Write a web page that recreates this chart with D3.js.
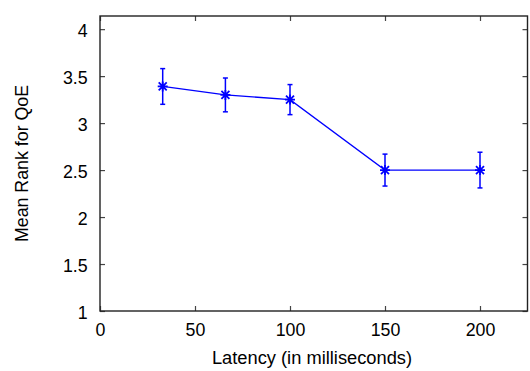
<!DOCTYPE html>
<html><head><meta charset="utf-8">
<script src="https://cdn.jsdelivr.net/npm/d3@7"></script>
<style>body{margin:0;background:#fff}svg{display:block}text{font-family:"Liberation Sans",Arial,sans-serif}</style>
</head><body>
<script>
const latency = [33, 66, 100, 150, 200];
const meanRank = [3.39, 3.30, 3.25, 2.50, 2.50];
const errLow = [3.20, 3.12, 3.09, 2.33, 2.31];
const errHigh = [3.58, 3.48, 3.41, 2.67, 2.69];
const xTicks = [0, 50, 100, 150, 200];
const yTicks = [1, 1.5, 2, 2.5, 3, 3.5, 4];

const W = 530, H = 371;
const m = {l: 100, r: 2.5, t: 16, b: 60};
const svg = d3.select("body").append("svg").attr("width", W).attr("height", H);
const x = d3.scaleLinear().domain([0, 225]).range([m.l, W - m.r]);
const y = d3.scaleLinear().domain([1, 4.14]).range([H - m.b, m.t]);
const blue = "#0000ff";
const fs = 17.8;

const g = svg.append("g");
const tl = 5;
g.append("g").attr("transform", `translate(0,${H - m.b})`)
  .call(d3.axisBottom(x).tickValues(xTicks).tickSizeInner(-tl).tickSizeOuter(0).tickPadding(12).tickFormat(d3.format("d")));
g.append("g").attr("transform", `translate(0,${m.t})`)
  .call(d3.axisTop(x).tickValues(xTicks).tickSizeInner(-tl).tickSizeOuter(0).tickFormat(""));
g.append("g").attr("transform", `translate(${m.l},0)`)
  .call(d3.axisLeft(y).tickValues(yTicks).tickSizeInner(-tl).tickSizeOuter(0).tickPadding(12.3).tickFormat(d => d3.format("")(d)));
g.append("g").attr("transform", `translate(${W - m.r},0)`)
  .call(d3.axisRight(y).tickValues(yTicks).tickSizeInner(-tl).tickSizeOuter(0).tickFormat(""));
g.selectAll(".domain").remove();
g.selectAll(".tick line").attr("stroke", "#444").attr("stroke-width", 1.2);
g.selectAll(".tick text").attr("font-size", fs).attr("fill", "#000");
g.selectAll(".tick text").filter(function(){ return d3.select(this).attr("dy") === "0.32em"; }).attr("dy", "0.42em");

svg.append("rect").attr("x", m.l).attr("y", m.t)
  .attr("width", W - m.r - m.l).attr("height", H - m.b - m.t)
  .attr("fill", "none").attr("stroke", "#222").attr("stroke-width", 1.4);

const pts = latency.map((d, i) => ({x: d, y: meanRank[i], lo: errLow[i], hi: errHigh[i]}));
svg.append("path").datum(pts)
  .attr("d", d3.line().x(d => x(d.x)).y(d => y(d.y)))
  .attr("fill", "none").attr("stroke", blue).attr("stroke-width", 1.3);

const eb = svg.append("g").attr("stroke", blue).attr("stroke-width", 1.5);
pts.forEach(d => {
  const cx = x(d.x);
  eb.append("line").attr("x1", cx).attr("x2", cx).attr("y1", y(d.lo)).attr("y2", y(d.hi));
  eb.append("line").attr("x1", cx - 2.5).attr("x2", cx + 2.5).attr("y1", y(d.lo)).attr("y2", y(d.lo));
  eb.append("line").attr("x1", cx - 2.5).attr("x2", cx + 2.5).attr("y1", y(d.hi)).attr("y2", y(d.hi));
  const cy = y(d.y), s = 5;
  eb.append("path").attr("stroke-width", 1.8)
    .attr("d", `M${cx - s},${cy}H${cx + s}M${cx},${cy - s}V${cy + s}M${cx - s * 0.8},${cy - s * 0.8}L${cx + s * 0.8},${cy + s * 0.8}M${cx - s * 0.8},${cy + s * 0.8}L${cx + s * 0.8},${cy - s * 0.8}`);
});

svg.append("text").attr("x", 312).attr("y", 364)
  .attr("text-anchor", "middle").attr("font-size", 18.3).text("Latency (in milliseconds)");
svg.append("text").attr("transform", `translate(28,${(m.t + H - m.b) / 2}) rotate(-90)`)
  .attr("text-anchor", "middle").attr("font-size", fs).text("Mean Rank for QoE");
</script>
</body></html>
